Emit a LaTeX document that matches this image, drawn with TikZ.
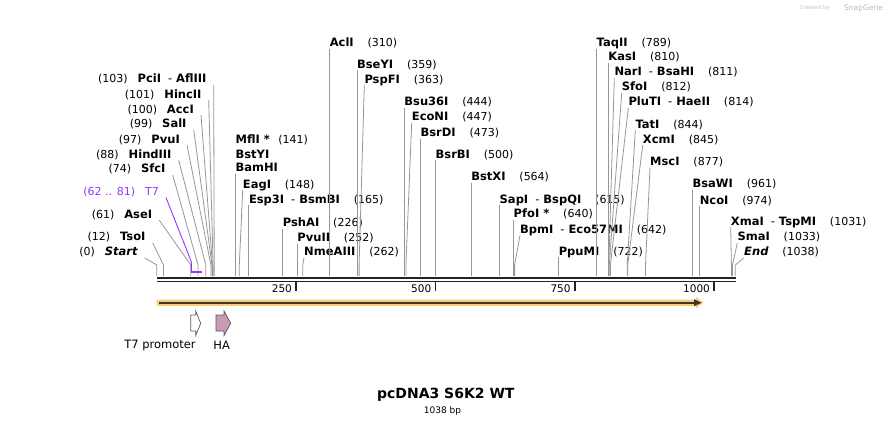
\documentclass[tikz,border=0pt]{standalone}
\usepackage{fontspec}
\setmainfont{DejaVu Sans}
\usetikzlibrary{calc}
\definecolor{cutgray}{RGB}{150,150,150}
\definecolor{bb}{RGB}{34,34,34}
\definecolor{t7purple}{RGB}{153,51,255}
\definecolor{featorange}{RGB}{250,204,120}
\definecolor{featdark}{RGB}{60,52,45}
\definecolor{hapink}{RGB}{204,153,180}
\definecolor{outl}{RGB}{90,90,90}
\tikzset{
  nm/.style={inner xsep=0pt, inner ysep=2pt, text height=8pt, text depth=0pt,
    font=\fontsize{11.5}{13}\selectfont\bfseries},
  nb/.style={inner xsep=0pt, inner ysep=2pt, text height=8pt, text depth=0pt,
    font=\fontsize{11}{13}\selectfont},
  cut/.style={draw=cutgray, line width=0.8pt},
  featlbl/.style={inner sep=0pt, font=\fontsize{11.5}{13}\selectfont},
  featshape/.style={draw=outl, line width=0.7pt},
}
\newcommand\dsep{\hspace{7pt}{\mdseries -}\hspace{4pt}}
% left-side label: id, name, name east x, centre y, number, site x
\newcommand\enzL[6]{%
  \node[nm, anchor=east] (#1) at (#3,#4) {#2};
  \node[nb, anchor=east] (#1n) at ([xshift=-9.5pt]#1.west) {#5};
  \coordinate (#1s) at (#6,276);
  \draw[cut] ([xshift=7pt]#1.south east) -- (#1s |- bend) -- (#1s);
}
% right-side label: id, name, name west x, centre y, number, site x
\newcommand\enzR[6]{%
  \node[nm, anchor=west] (#1) at (#3,#4) {#2};
  \node[nb, anchor=west] (#1n) at ([xshift=13.5pt]#1.east) {#5};
  \coordinate (#1s) at (#6,276);
  \draw[cut] (#1.south west) -- (#1s |- bend) -- (#1s);
}
\begin{document}
\begin{tikzpicture}[x=1pt,y=-1pt]
\useasboundingbox (0,0) rectangle (893,426);
\coordinate (bend) at (0,265);

% watermark
\node[inner sep=0pt, text=gray!45, font=\fontsize{5.5}{6}\selectfont, anchor=east] (cb) at (830,8) {Created by};
\node[inner sep=0pt, text=gray!55, font=\fontsize{7.5}{8}\selectfont, anchor=west] (sg) at (844,8) {SnapGene};

% backbone
\coordinate (bl) at (156.8,277.6);
\coordinate (br) at (735.5,277.6);
\draw[bb, line width=2.2pt] (bl) -- (br);
\draw[bb, line width=1.4pt] ([yshift=-3.6pt]bl) -- ([yshift=-3.6pt]br);
\foreach \v/\x in {250/296.1,500/435.4,750/574.8,1000/714.1}{
  \coordinate (tick\v) at (\x,281);
  \draw[bb, line width=1.4pt] (tick\v) -- ++(0,9.5);
  \node[nb, anchor=east, font=\fontsize{10.5}{12}\selectfont] (tl\v) at (\x-4,288.5) {\v};
}

% left labels
\enzL{pci}{PciI\dsep AflIII}{206.7}{78.3}{(103)}{214.2}
\enzL{hinc}{HincII}{201.7}{94}{(101)}{213.1}
\enzL{acc}{AccI}{194}{109}{(100)}{212.5}
\enzL{sal}{SalI}{186.7}{123.7}{(99)}{212.0}
\enzL{pvu}{PvuI}{180}{139}{(97)}{210.9}
\enzL{hind}{HindIII}{171.7}{154}{(88)}{205.8}
\enzL{sfc}{SfcI}{165.7}{168.7}{(74)}{198.0}
\enzL{ase}{AseI}{152.3}{214}{(61)}{190.8}
\enzL{tso}{TsoI}{145.7}{236.7}{(12)}{163.5}
\enzL{start}{\itshape Start}{137.7}{251.7}{(0)}{156.8}

% T7 site
\node[nb, text=t7purple, anchor=east] (t7) at (159,191.3) {T7};
\node[nb, text=t7purple, anchor=east] (t7n) at ([xshift=-9.5pt]t7.west) {(62 .. 81)};
\coordinate (t7a) at (191.4,272.3);
\coordinate (t7b) at (201.9,272.3);
\draw[t7purple, line width=0.9pt] ([xshift=7pt]t7.south east) -- (t7a |- 0,262) -- (t7a);
\draw[t7purple, line width=2.2pt] (t7a) -- (t7b);

% 141 group
\node[nm, anchor=west] (mfl) at (235.4,139) {MflI *};
\node[nb, anchor=west] (mfln) at ([xshift=8pt]mfl.east) {(141)};
\node[nm, anchor=west] (bsty) at (235.4,154) {BstYI};
\node[nm, anchor=west] (bam) at (235.4,167.7) {BamHI};
\coordinate (bams) at (235.4,276);
\draw[cut] (bam.south west) -- (bams);

% right labels
\enzR{eag}{EagI}{242.7}{184}{(148)}{239.3}
\enzR{esp}{Esp3I\dsep BsmBI}{248.8}{199}{(165)}{248.8}
\enzR{psha}{PshAI}{282.7}{222.3}{(226)}{282.7}
\enzR{pvuii}{PvuII}{297.2}{237.3}{(252)}{297.2}
\enzR{nme}{NmeAIII}{304}{251.7}{(262)}{302.8}
\enzR{acl}{AclI}{329.6}{42.3}{(310)}{329.6}
\enzR{bsey}{BseYI}{356.9}{64}{(359)}{356.9}
\enzR{pspf}{PspFI}{364.3}{79}{(363)}{359.1}
\enzR{bsu}{Bsu36I}{404.2}{101.7}{(444)}{404.2}
\enzR{econ}{EcoNI}{411.7}{116.7}{(447)}{405.9}
\enzR{bsrd}{BsrDI}{420.4}{132.3}{(473)}{420.4}
\enzR{bsrb}{BsrBI}{435.5}{154}{(500)}{435.5}
\enzR{bstx}{BstXI}{471.1}{176.7}{(564)}{471.1}
\enzR{sap}{SapI\dsep BspQI}{499.5}{199}{(615)}{499.5}
\enzR{pfo}{PfoI *}{513.5}{213.7}{(640)}{513.5}
\enzR{bpm}{BpmI\dsep Eco57MI}{520}{229}{(642)}{514.6}
\enzR{ppum}{PpuMI}{558.6}{251}{(722)}{558.6}
\enzR{taq}{TaqII}{596.5}{42.3}{(789)}{596.5}
\enzR{kas}{KasI}{608.2}{56.7}{(810)}{608.2}
\enzR{nar}{NarI\dsep BsaHI}{614.3}{71.7}{(811)}{608.8}
\enzR{sfo}{SfoI}{621.7}{86.7}{(812)}{609.3}
\enzR{plut}{PluTI\dsep HaeII}{628.3}{101.7}{(814)}{610.4}
\enzR{tat}{TatI}{635.3}{124}{(844)}{627.2}
\enzR{xcm}{XcmI}{642.7}{139}{(845)}{627.7}
\enzR{msc}{MscI}{650}{161.7}{(877)}{645.5}
\enzR{bsaw}{BsaWI}{692.4}{183.3}{(961)}{692.4}
\enzR{nco}{NcoI}{699.6}{200}{(974)}{699.6}
\enzR{xma}{XmaI\dsep TspMI}{730.7}{221}{(1031)}{731.4}
\enzR{sma}{SmaI}{737.3}{236.7}{(1033)}{732.5}
\enzR{endl}{\itshape End}{744}{251.7}{(1038)}{735.3}

% feature bar
\fill[featorange] (156.8,299.5) -- (696,299.5) -- (696,297) -- (703.5,302.7)
  -- (696,308.4) -- (696,305.9) -- (156.8,305.9) -- cycle;
\draw[featdark, line width=2pt] (158.5,302.7) -- (695,302.7);
\fill[featdark] (694,299.2) -- (701.5,302.7) -- (694,306.2) -- cycle;

% small features
\draw[featshape, fill=white] (190.7,315) -- (195.7,315) -- (195.7,311) -- (200.7,323.3)
  -- (195.7,335.5) -- (195.7,331) -- (190.7,331) -- cycle;
\draw[featshape, fill=hapink] (216,315) -- (224,315) -- (224,311) -- (230.7,323.3)
  -- (224,335.5) -- (224,331) -- (216,331) -- cycle;
\node[featlbl] (t7pl) at (160,345) {T7 promoter};
\node[featlbl] (hal) at (221.7,345) {HA};

% title
\node[inner sep=0pt, font=\fontsize{14}{16}\selectfont\bfseries] (title) at (445.8,395) {pcDNA3 S6K2 WT};
\node[inner sep=0pt, font=\fontsize{9}{11}\selectfont] (len) at (442.5,411) {1038 bp};
\end{tikzpicture}
\end{document}
